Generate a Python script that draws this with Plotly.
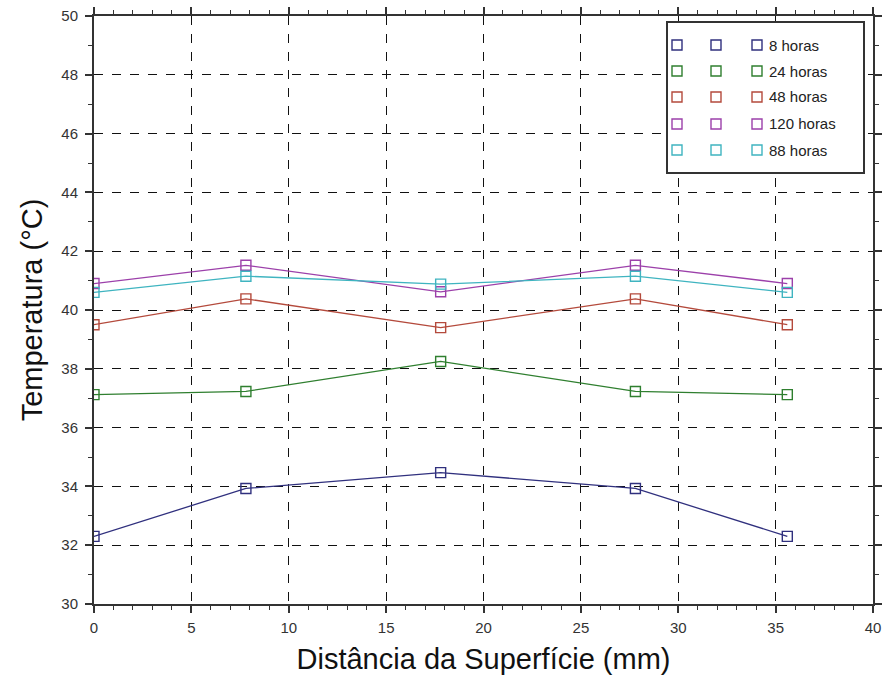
import plotly.graph_objects as go

x_mm = [0.0, 7.8, 17.8, 27.8, 35.6]
series_names = ["8 horas", "24 horas", "48 horas", "120 horas", "88 horas"]
t_8h = [32.3, 33.93, 34.47, 33.93, 32.3]
t_24h = [37.12, 37.23, 38.25, 37.23, 37.12]
t_48h = [39.5, 40.38, 39.4, 40.38, 39.5]
t_120h = [40.9, 41.52, 40.62, 41.52, 40.9]
t_88h = [40.6, 41.15, 40.88, 41.15, 40.6]
series_values = [t_8h, t_24h, t_48h, t_120h, t_88h]
colors = ["#30307e", "#2f7f2f", "#b44a3c", "#9c40aa", "#3fb4c0"]

x_ticks = [0, 5, 10, 15, 20, 25, 30, 35, 40]
y_ticks = [30, 32, 34, 36, 38, 40, 42, 44, 46, 48, 50]

fig = go.Figure()
for name, vals, c in zip(series_names, series_values, colors):
    fig.add_trace(go.Scatter(
        x=x_mm, y=vals, mode="lines+markers", name=name,
        line=dict(color=c, width=1.3),
        marker=dict(symbol="square-open", size=10, color=c, line=dict(width=1.4, color=c)),
        showlegend=False,
    ))

axis_common = dict(
    showline=True, linecolor="#333333", linewidth=2, mirror="ticks",
    ticks="outside", ticklen=7, tickwidth=1.5, tickcolor="#333333",
    showgrid=True, gridcolor="#111111", gridwidth=1.4, griddash="dash",
    zeroline=False, automargin=False,
    tickfont=dict(family="Liberation Sans, Arial", size=15, color="#333333"),
    minor=dict(ticks="outside", ticklen=4, tickcolor="#333333", tickwidth=1.2, showgrid=False),
)

fig.update_xaxes(range=[0, 40], tickvals=x_ticks, minor_dtick=1, ticklabelstandoff=2,
                 title=dict(text="Distância da Superfície (mm)", standoff=14,
                            font=dict(family="Liberation Sans, Arial", size=29, color="#111111")),
                 **axis_common)
fig.update_yaxes(range=[30, 50], tickvals=y_ticks, minor_dtick=1, ticklabelstandoff=4,
                 title=dict(text="Temperatura (°C)", standoff=10,
                            font=dict(family="Liberation Sans, Arial", size=29, color="#111111")),
                 **axis_common)

# custom legend box (Scilab-style: three squares per row)
shapes = []
annotations = []
box_x0, box_x1, box_y0, box_y1 = 667, 864, 22, 173
W, H = 884, 693
ml, mr, mt, mb = 94, 11, 16, 89
pw, ph = W - ml - mr, H - mt - mb

def px2paper(px, py):
    return (px - ml) / pw, 1 - (py - mt) / ph

bx0, by1 = px2paper(box_x0, box_y0)
bx1, by0 = px2paper(box_x1, box_y1)
shapes.append(dict(type="rect", xref="paper", yref="paper", x0=bx0, x1=bx1, y0=by0, y1=by1,
                   line=dict(color="#333333", width=2), fillcolor="white", layer="above"))
row_y = [45, 71, 97, 124, 150]
sq_x = [677, 716, 757]
half = 5
for i, (name, c) in enumerate(zip(series_names, colors)):
    for sx in sq_x:
        x0, y1 = px2paper(sx - half, row_y[i] - half)
        x1, y0 = px2paper(sx + half, row_y[i] + half)
        shapes.append(dict(type="rect", xref="paper", yref="paper", x0=x0, x1=x1, y0=y0, y1=y1,
                           line=dict(color=c, width=1.4), layer="above"))
    tx, ty = px2paper(767, row_y[i])
    annotations.append(dict(xref="paper", yref="paper", x=tx, y=ty, text=name, showarrow=False,
                            xanchor="left", yanchor="middle",
                            font=dict(family="Liberation Sans, Arial", size=15, color="#222222")))

fig.update_layout(
    width=W, height=H,
    margin=dict(l=ml, r=mr, t=mt, b=mb, autoexpand=False),
    paper_bgcolor="white", plot_bgcolor="white",
    shapes=shapes, annotations=annotations,
    showlegend=False,
)

fig.write_html("out.html")
